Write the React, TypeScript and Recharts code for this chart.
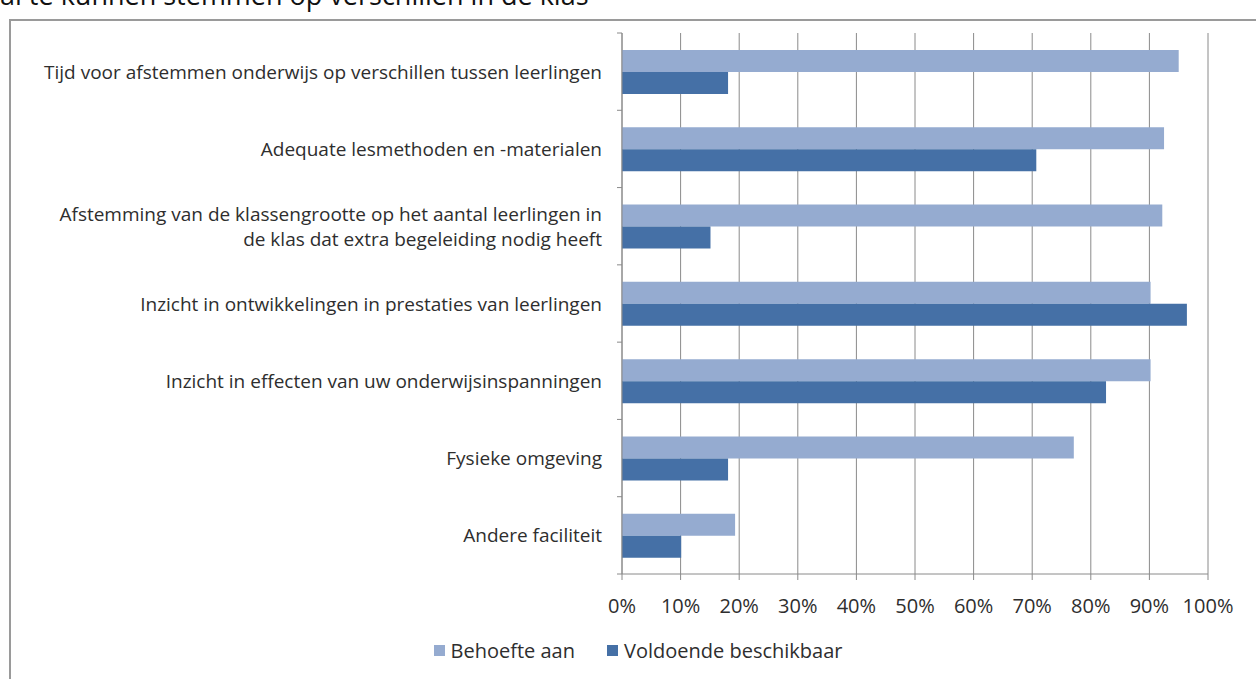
import { Bar, BarChart, CartesianGrid, XAxis, YAxis } from 'recharts'

const categories = [
  'Tijd voor afstemmen onderwijs op verschillen tussen leerlingen',
  'Adequate lesmethoden en -materialen',
  'Afstemming van de klassengrootte op het aantal leerlingen in\nde klas dat extra begeleiding nodig heeft',
  'Inzicht in ontwikkelingen in prestaties van leerlingen',
  'Inzicht in effecten van uw onderwijsinspanningen',
  'Fysieke omgeving',
  'Andere faciliteit',
]
const behoefte = [95, 92.5, 92.2, 90.2, 90.2, 77.1, 19.3]
const voldoende = [18.1, 70.7, 15.1, 96.4, 82.6, 18.1, 10.1]
const xTicks = [0, 10, 20, 30, 40, 50, 60, 70, 80, 90, 100]
const seriesNames = ['Behoefte aan', 'Voldoende beschikbaar']
const colors = ['#95abd0', '#4570a6']

const data = categories.map((name, i) => ({
  name,
  behoefte: behoefte[i],
  voldoende: voldoende[i],
}))

const FONT = '"Open Sans", sans-serif'
const TEXT = '#2e2e2e'
const GRID = '#8a8a8a'
const BAND = 541 / 7

function CategoryTick(props: any) {
  const { x, y, payload, index } = props
  const lines = String(payload.value).split('\n')
  const axisX = x + 20
  const lh = 25
  const y0 = y - ((lines.length - 1) * lh) / 2
  return (
    <g>
      <line x1={axisX - 5} x2={axisX} y1={y - BAND / 2} y2={y - BAND / 2} stroke={GRID} />
      {index === categories.length - 1 && (
        <line x1={axisX - 5} x2={axisX} y1={y + BAND / 2} y2={y + BAND / 2} stroke={GRID} />
      )}
      <text x={x} y={y0} textAnchor="end" dominantBaseline="central" fill={TEXT} fontFamily={FONT} fontSize={19}>
        {lines.map((l, k) => (
          <tspan key={k} x={x} y={y0 + k * lh}>
            {l}
          </tspan>
        ))}
      </text>
    </g>
  )
}

export default function App() {
  return (
    <div style={{ position: 'absolute', left: 0, top: 0, width: 1256, height: 679, overflow: 'hidden', background: '#fff' }}>
      <div
        style={{
          position: 'absolute',
          left: 0,
          top: -24,
          fontFamily: FONT,
          fontSize: 27,
          color: '#111',
          whiteSpace: 'nowrap',
        }}
      >
        al te kunnen stemmen op verschillen in de klas
      </div>
      <div
        style={{
          position: 'absolute',
          left: 9,
          top: 19,
          width: 1300,
          height: 700,
          border: '2px solid #9a9a9a',
          boxSizing: 'border-box',
        }}
      />
      <div style={{ position: 'absolute', left: 10, top: 20 }}>
        <BarChart
          width={1256}
          height={659}
          data={data}
          layout="vertical"
          margin={{ top: 13, right: 58, bottom: 75, left: 0 }}
          barGap={0}
          barSize={22}
        >
          <CartesianGrid horizontal={false} vertical stroke={GRID} />
          <XAxis
            type="number"
            domain={[0, 100]}
            ticks={xTicks}
            tickFormatter={(v) => `${v}%`}
            axisLine={{ stroke: GRID }}
            tickLine={{ stroke: GRID }}
            tickSize={6}
            tickMargin={19}
            tick={{ fill: TEXT, fontFamily: FONT, fontSize: 20 }}
            interval={0}
          />
          <YAxis
            type="category"
            dataKey="name"
            width={612}
            axisLine={{ stroke: GRID }}
            tickLine={false}
            tickSize={0}
            tickMargin={20}
            tick={<CategoryTick />}
            interval={0}
          />
          <Bar dataKey="behoefte" name={seriesNames[0]} fill={colors[0]} isAnimationActive={false} />
          <Bar dataKey="voldoende" name={seriesNames[1]} fill={colors[1]} isAnimationActive={false} />
        </BarChart>
      </div>
      <div
        style={{
          position: 'absolute',
          left: 0,
          top: 637,
          width: 1276,
          display: 'flex',
          justifyContent: 'center',
          gap: 32,
          fontFamily: FONT,
          fontSize: 20,
          color: TEXT,
        }}
      >
        {seriesNames.map((n, i) => (
          <div key={n} style={{ display: 'flex', alignItems: 'center', gap: 6 }}>
            <span style={{ width: 11, height: 11, background: colors[i], display: 'inline-block' }} />
            <span>{n}</span>
          </div>
        ))}
      </div>
    </div>
  )
}
